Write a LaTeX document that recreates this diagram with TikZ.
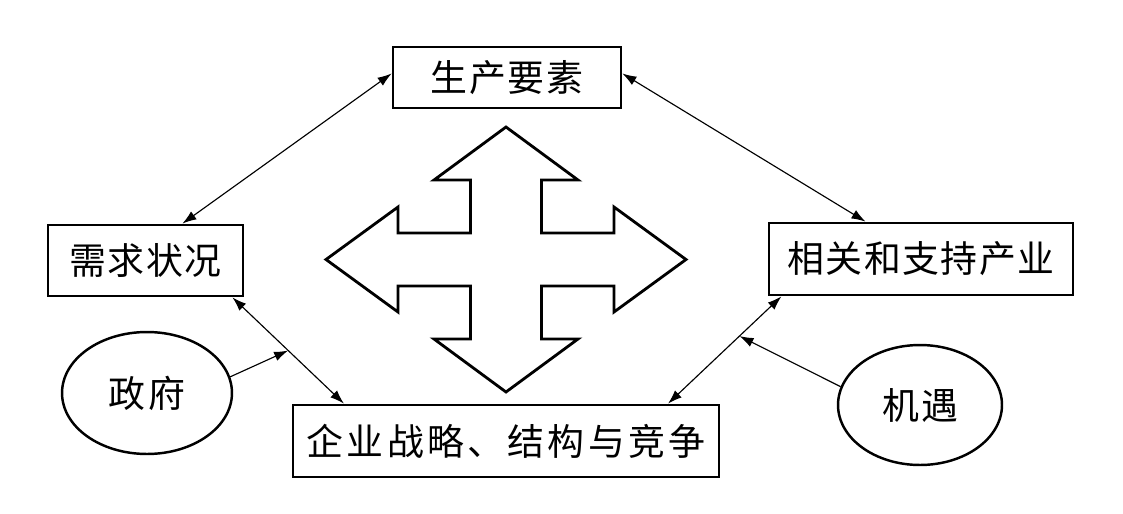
\documentclass[tikz,border=0pt]{standalone}
\usepackage{fontspec}
\newfontfamily\cjk{Noto Sans CJK SC}
\usetikzlibrary{arrows.meta,shapes.geometric,calc}

\tikzset{
    box/.style={draw, line width=1.6pt, inner sep=0pt, font=\cjk\fontsize{21}{21}\selectfont\addfontfeature{LetterSpace=4}},
    oval/.style={draw, ellipse, line width=1.4pt, inner sep=0pt, font=\cjk\fontsize{21}{21}\selectfont\addfontfeature{LetterSpace=6}},
    link/.style={line width=0.65pt, {Latex[length=8pt,width=5.5pt]}-{Latex[length=8pt,width=5.5pt]}},
    push/.style={line width=0.65pt, -{Latex[length=8pt,width=5.5pt]}}
}

\begin{document}
\begin{tikzpicture}[x=0.02cm, y=-0.02cm]
    \useasboundingbox (0,0) rectangle (1123,514);

    % four boxes
    \node[box, minimum width=4.56cm, minimum height=1.22cm] (factor) at (507,77.5) {生产要素};
    \node[box, minimum width=3.9cm, minimum height=1.42cm] (demand) at (145.5,260.5) {需求状况};
    \node[box, minimum width=6.08cm, minimum height=1.44cm] (related) at (921,259) {相关和支持产业};
    \node[box, minimum width=8.52cm, minimum height=1.44cm,
          font=\cjk\fontsize{21}{21}\selectfont\addfontfeature{LetterSpace=9}] (firm) at (506,441) {企业战略、结构与竞争};

    % outside forces
    \node[oval, minimum width=3.4cm, minimum height=2.44cm] (gov) at (147,393) {政府};
    \node[oval, minimum width=3.28cm, minimum height=2.4cm] (chance) at (920,405) {机遇};

    % links between the boxes
    \draw[link] (factor.178) -- (demand.45);
    \draw[link] (factor.2) -- (related.146);
    \draw[link] (demand.-23) -- (firm.167);
    \draw[link] (related.195) -- (firm.13);

    \coordinate (govhit) at ($(demand.-23)!0.5!(firm.167)$);
    \coordinate (chancehit) at ($(related.195)!0.37!(firm.13)$);
    \draw[push] (gov.11) -- (govhit);
    \draw[push] (chance.167) -- (chancehit);

    % four-way arrow in the middle
    \draw[line width=1.6pt, line join=miter] (506,259.5)
        ++(0,-132.5) -- ++(72,53) -- ++(-36.5,0) -- ++(0,53) -- ++(72.5,0)
        -- ++(0,-26) -- ++(72,52.5) -- ++(-72,52.5) -- ++(0,-26) -- ++(-72.5,0)
        -- ++(0,53) -- ++(36.5,0) -- ++(-72,53) -- ++(-72,-53) -- ++(36.5,0)
        -- ++(0,-53) -- ++(-72.5,0) -- ++(0,26) -- ++(-72,-52.5) -- ++(72,-52.5)
        -- ++(0,26) -- ++(72.5,0) -- ++(0,-53) -- ++(-36.5,0) -- cycle;
\end{tikzpicture}
\end{document}
